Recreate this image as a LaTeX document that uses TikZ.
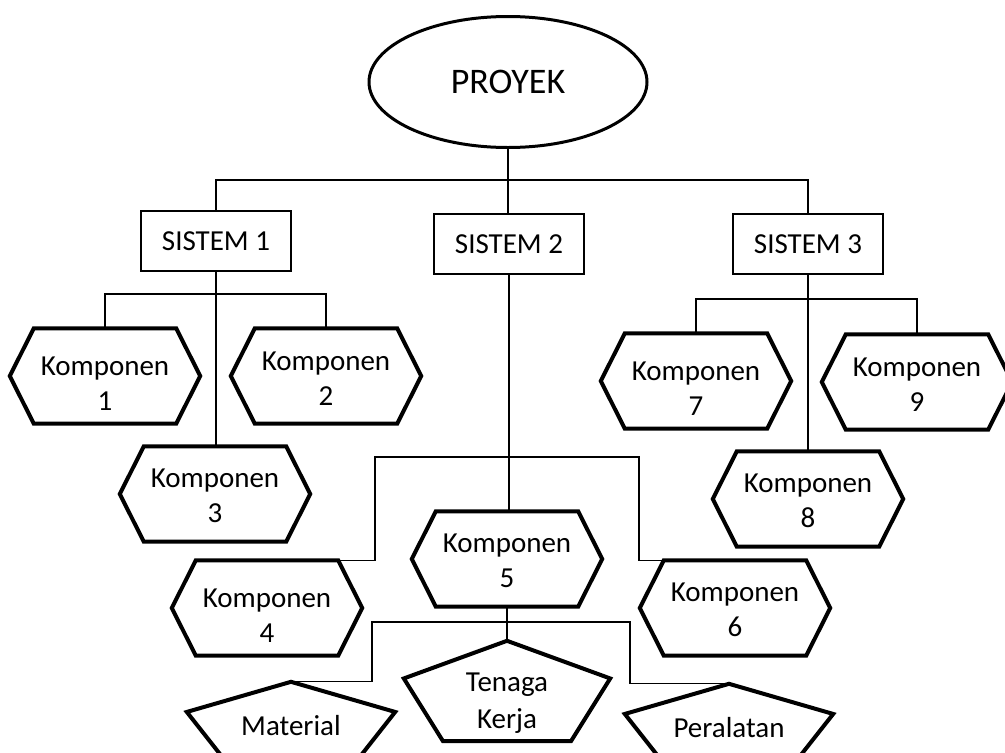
\documentclass[tikz,border=0pt]{standalone}
\usepackage{fontspec}
\setmainfont{Carlito}
\usetikzlibrary{calc,shapes.geometric}
\newcommand{\kompteks}[2][23pt]{\rule{0pt}{#1}Komponen\\#2}

\begin{document}
\begin{tikzpicture}[x={(1pt,0pt)}, y={(0pt,-1pt)},
  garis/.style={line width=1.2pt},
  tebal/.style={line width=4pt},
  proyek/.style={ellipse, draw, line width=3pt, minimum width=278pt, minimum height=131pt, inner sep=0pt, font=\fontsize{36}{40}\selectfont},
  sistem/.style={draw, line width=1.2pt, minimum width=150pt, minimum height=60pt, inner sep=0pt, font=\fontsize{29}{35}\selectfont},
  komp/.style={minimum width=190pt, minimum height=95pt, inner sep=0pt, align=center, font=\fontsize{29}{35}\selectfont},
  sumber/.style={minimum width=208pt, inner sep=0pt, align=center, font=\fontsize{29}{37}\selectfont}]
  \useasboundingbox (0,0) rectangle (1005,753);

  % 项目与系统
  \node[proyek] (p) at (508,82) {PROYEK};
  \node[sistem] (s1) at (216,241) {SISTEM 1};
  \node[sistem] (s2) at (509,244) {SISTEM 2};
  \node[sistem] (s3) at (808,244) {SISTEM 3};

  % 组件
  \node[komp] (k1) at (105,376) {\kompteks[34pt]{1}};
  \node[komp] (k2) at (326,376) {\kompteks{2}};
  \node[komp] (k3) at (215,494) {\kompteks{3}};
  \node[komp] (k4) at (267,608) {\kompteks[34pt]{4}};
  \node[komp] (k5) at (507,559) {\kompteks{5}};
  \node[komp] (k6) at (735,608) {\kompteks{6}};
  \node[komp] (k7) at (696,381) {\kompteks[34pt]{7}};
  \node[komp] (k8) at (808,499) {\kompteks{8}};
  \node[komp] (k9) at (917,382) {\kompteks{9}};

  % 资源
  \node[sumber, minimum height=80pt] (mat) at (291,722) {\rule{0pt}{27pt}Material};
  \node[sumber, minimum width=206pt, minimum height=100pt] (ten) at (507,691) {\rule{0pt}{42pt}Tenaga\\Kerja};
  \node[sumber, minimum height=80pt] (per) at (729,724) {\rule{0pt}{27pt}Peralatan};

  % 六边形
  \foreach \n in {k1,k2,k3,k4,k5,k6,k7,k8,k9}
    \draw[tebal] (\n.west) -- ([xshift=24pt]\n.north west) -- ([xshift=-24pt]\n.north east)
      -- (\n.east) -- ([xshift=-24pt]\n.south east) -- ([xshift=24pt]\n.south west) -- cycle;

  % 五边形
  \foreach \n in {mat,ten,per}
    \draw[tebal] (\n.north) -- ($(\n.west)!0.25!(\n.north west)$)
      -- ($(\n.south west)!0.19!(\n.south east)$) -- ($(\n.south west)!0.81!(\n.south east)$)
      -- ($(\n.east)!0.25!(\n.north east)$) -- cycle;

  % 连线
  \coordinate (j0) at (508,180);
  \coordinate (j1) at (216,294);
  \coordinate (j2l) at (375,457);
  \coordinate (j2r) at (639,457);
  \coordinate (j3) at (808,299);
  \coordinate (j5l) at (372,622);
  \coordinate (j5r) at (630,622);

  \draw[garis] (p.south) -- (p.south |- s2.north);
  \draw[garis] (s1.north) |- (j0) -| (s3.north);

  \draw[garis] (s1.south) -- (s1.south |- k3.north);
  \draw[garis] (k1.north) |- (j1) -| (k2.north);

  \draw[garis] (s2.south) -- (s2.south |- k5.north);
  \draw[garis] ([xshift=-24pt]k4.north east) -| (j2l) -- (j2r) |- ([xshift=24pt]k6.north west);

  \draw[garis] (s3.south) -- (s3.south |- k8.north);
  \draw[garis] (k7.north) |- (j3) -| (k9.north);

  \draw[garis] (k5.south) -- (ten.north);
  \draw[garis] (mat.north) -| (j5l) -- (j5r) |- (per.north);
\end{tikzpicture}
\end{document}
